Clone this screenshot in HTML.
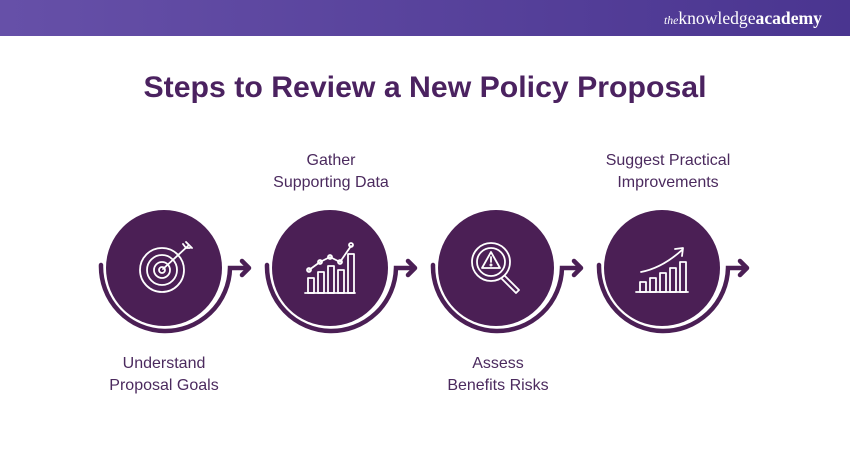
<!DOCTYPE html>
<html><head><meta charset="utf-8"><style>
html,body{margin:0;padding:0;background:#fff}
svg{display:block}
text{font-family:"Liberation Sans",sans-serif}
text.logo{font-family:"Liberation Serif",serif}
</style></head><body>
<svg width="850" height="450" viewBox="0 0 850 450" xmlns="http://www.w3.org/2000/svg">
<defs>
<linearGradient id="hg" x1="0" x2="1" y1="0" y2="0">
<stop offset="0" stop-color="#6650a8"/><stop offset="1" stop-color="#4a3590"/>
</linearGradient>
<g id="ring">
<circle cx="0" cy="0" r="58" fill="#4b1f55"/>
<path d="M-63,-3 A64,64 0 1 0 66,0 L84,0" fill="none" stroke="#4b1f55" stroke-width="4.5" stroke-linecap="round"/>
<path d="M78,-7 L85,0 L78,7" fill="none" stroke="#4b1f55" stroke-width="4.5" stroke-linecap="round" stroke-linejoin="round"/>
</g>
</defs>
<rect x="0" y="0" width="850" height="36" fill="url(#hg)"/>
<text class="logo" x="664" y="24" fill="#fff" font-size="18" textLength="158" lengthAdjust="spacingAndGlyphs"><tspan font-style="italic" font-size="12">the</tspan>knowledge<tspan font-weight="bold">academy</tspan></text>
<text x="425" y="97" text-anchor="middle" font-size="30" font-weight="bold" fill="#4b2260" textLength="563" lengthAdjust="spacingAndGlyphs">Steps to Review a New Policy Proposal</text>

<use href="#ring" x="164" y="268"/>
<use href="#ring" x="330" y="268"/>
<use href="#ring" x="496" y="268"/>
<use href="#ring" x="662" y="268"/>

<g fill="none" stroke="#fff" stroke-width="1.8" stroke-linecap="round">
<circle cx="162" cy="270" r="22"/><circle cx="162" cy="270" r="15"/><circle cx="162" cy="270" r="8"/><circle cx="162" cy="270" r="3"/>
<path d="M163,269 L189,245 M183,244 L186,248 L190,248 M186,242 L189,245 M192,248 L189,245"/>
</g>
<g fill="none" stroke="#fff" stroke-width="1.8" stroke-linecap="round" stroke-linejoin="round">
<path d="M305,293 L355,293"/>
<rect x="308" y="278" width="6" height="15"/><rect x="318" y="272" width="6" height="21"/><rect x="328" y="266" width="6" height="27"/><rect x="338" y="270" width="6" height="23"/><rect x="348" y="254" width="6" height="39"/>
<path d="M309,270 L320,262 L330,257 L340,262 L351,246"/>
<circle cx="309" cy="270" r="2"/><circle cx="320" cy="262" r="2"/><circle cx="330" cy="257" r="2"/><circle cx="340" cy="262" r="2"/><circle cx="351" cy="245" r="2"/>
</g>
<g fill="none" stroke="#fff" stroke-width="1.8" stroke-linecap="round" stroke-linejoin="round">
<circle cx="491" cy="262" r="19"/><circle cx="491" cy="262" r="14"/>
<path d="M505,276 L519,290 L516,293 L502,279"/>
<path d="M491,252 L500,268 L482,268 Z"/><path d="M491,257 L491,262"/><circle cx="491" cy="265" r="0.6"/>
</g>
<g fill="none" stroke="#fff" stroke-width="1.8" stroke-linecap="round" stroke-linejoin="round">
<path d="M636,292 L688,292"/>
<rect x="640" y="282" width="6" height="10"/><rect x="650" y="278" width="6" height="14"/><rect x="660" y="273" width="6" height="19"/><rect x="670" y="268" width="6" height="24"/><rect x="680" y="262" width="6" height="30"/>
<path d="M641,272 Q662,268 682,250 M675,249 L683,248 L682,256"/>
</g>

<g font-size="16" fill="#4b2a5e" text-anchor="middle">
<text x="164" y="368">Understand</text><text x="164" y="390">Proposal Goals</text>
<text x="331" y="165">Gather</text><text x="331" y="187">Supporting Data</text>
<text x="498" y="368">Assess</text><text x="498" y="390">Benefits Risks</text>
<text x="668" y="165">Suggest Practical</text><text x="668" y="187">Improvements</text>
</g>
</svg>
</body></html>
